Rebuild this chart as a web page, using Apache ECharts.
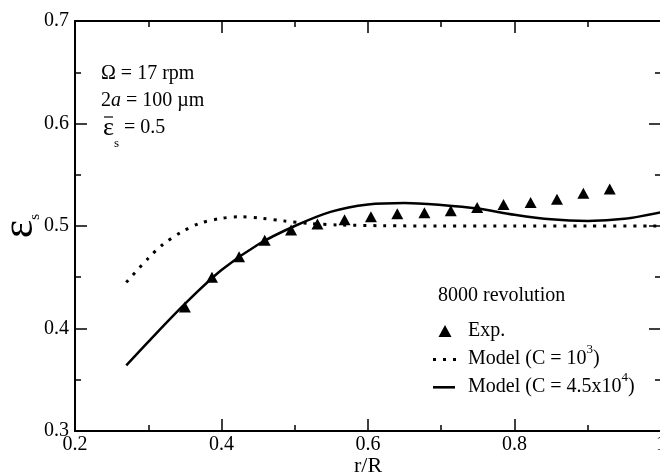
<!DOCTYPE html>
<html>
<head>
<meta charset="utf-8">
<script src="https://cdn.jsdelivr.net/npm/echarts@6/dist/echarts.min.js"></script>
<style>
html, body { margin: 0; padding: 0; background: #fff; }
#chart { width: 660px; height: 476px; }
</style>
</head>
<body>
<div id="chart"></div>
<script>
// tick values
var xTicks = [0.2, 0.4, 0.6, 0.8, 1.0];
var yTicks = [0.3, 0.4, 0.5, 0.6, 0.7];

// experiment (8000 revolution)
var expR = [0.350, 0.387, 0.424, 0.459, 0.495, 0.531, 0.568, 0.604, 0.640, 0.677, 0.713, 0.749, 0.785, 0.822, 0.858, 0.894, 0.930];
var expEps = [0.421, 0.450, 0.470, 0.486, 0.496, 0.502, 0.506, 0.509, 0.512, 0.513, 0.515, 0.518, 0.521, 0.523, 0.526, 0.532, 0.536];

// model, C = 10^3 (dotted)
var lowR = [0.27, 0.30, 0.32, 0.345, 0.37, 0.40, 0.425, 0.455, 0.485, 0.52, 0.56, 0.62, 0.70, 0.80, 0.90, 1.00];
var lowEps = [0.445, 0.4685, 0.482, 0.494, 0.5026, 0.5075, 0.509, 0.5075, 0.505, 0.5025, 0.501, 0.5003, 0.500, 0.500, 0.500, 0.500];

// model, C = 4.5x10^4 (solid)
var highR = [0.27, 0.30, 0.35, 0.40, 0.45, 0.50, 0.55, 0.60, 0.65, 0.70, 0.75, 0.80, 0.85, 0.90, 0.95, 1.00];
var highEps = [0.364, 0.387, 0.424, 0.457, 0.482, 0.500, 0.514, 0.521, 0.5225, 0.5205, 0.517, 0.511, 0.5065, 0.505, 0.507, 0.5134];

var seriesNames = ['Exp.', 'Model (C = 10^3)', 'Model (C = 4.5x10^4)'];
var legendLabels = [
    '{n|Exp.}',
    '{n|Model (C = 10}{sup|3}{n|)}',
    '{n|Model (C = 4.5x10}{sup|4}{n|)}'
];
// icons drawn in a 27x12 box
var legendIcons = [
    'path://M0,0M27,12M12,0L18.5,12L5.5,12Z',
    'path://M0,0M27,12M0,5h3v3h-3z M10,5h3v3h-3z M20,5h3v3h-3z',
    'path://M0,0M27,12M0,5h22v2.6h-22z'
];
var legendTitle = '8000 revolution';

var font = 'Liberation Serif';

function pairs(xs, ys) {
    return xs.map(function(x, i) { return [x, ys[i]]; });
}
function step(t) {
    return Math.round((t[1] - t[0]) * 1e6) / 1e6;
}

var tickLine = {color: '#000', width: 1.5};
var axisLine = {show: true, lineStyle: {color: '#000', width: 2}};

function xAxisOf(pos, showLabel) {
    return {
        type: 'value',
        position: pos,
        min: xTicks[0],
        max: xTicks[xTicks.length - 1],
        interval: step(xTicks),
        axisLine: axisLine,
        axisTick: {inside: true, length: 12, lineStyle: tickLine},
        minorTick: {show: true, splitNumber: 2, length: 6, lineStyle: tickLine},
        splitLine: {show: false},
        axisLabel: {show: showLabel, color: '#000', fontFamily: font, fontSize: 20, margin: 4},
        name: showLabel ? 'r/R' : '',
        nameLocation: 'middle',
        nameGap: 24,
        nameMoveOverlap: false,
        nameTextStyle: {color: '#000', fontFamily: font, fontSize: 22}
    };
}
function yAxisOf(pos, showLabel) {
    return {
        type: 'value',
        position: pos,
        min: yTicks[0],
        max: yTicks[yTicks.length - 1],
        interval: step(yTicks),
        axisLine: axisLine,
        axisTick: {inside: true, length: 12, lineStyle: tickLine},
        minorTick: {show: true, splitNumber: 2, length: 6, lineStyle: tickLine},
        splitLine: {show: false},
        axisLabel: {show: showLabel, color: '#000', fontFamily: font, fontSize: 20, margin: 6},
        name: showLabel ? '{e|\u03b5}{s|s}' : '',
        nameLocation: 'middle',
        nameRotate: 90,
        nameGap: 33,
        nameMoveOverlap: false,
        nameTextStyle: {
            color: '#000', fontFamily: font, lineHeight: 44,
            rich: {
                e: {fontFamily: font, fontSize: 44, color: '#000', lineHeight: 44},
                s: {fontFamily: font, fontSize: 15, color: '#000', lineHeight: 44, padding: [30, 0, 0, 0]}
            }
        }
    };
}

var chart = echarts.init(document.getElementById('chart'));

var option = {
    animation: false,
    backgroundColor: '#fff',
    grid: {left: 75, right: -1, top: 21, bottom: 45, containLabel: false, outerBoundsMode: 'none'},
    xAxis: [xAxisOf('bottom', true), xAxisOf('top', false)],
    yAxis: [yAxisOf('left', true), yAxisOf('right', false)],
    legend: {
        orient: 'vertical',
        left: 433,
        top: 319,
        padding: 0,
        itemWidth: 27,
        itemHeight: 12,
        itemGap: 0,
        symbolKeepAspect: true,
        selectedMode: false,
        data: seriesNames.map(function(name, i) {
            return {name: name, icon: legendIcons[i]};
        }),
        formatter: function(name) {
            return legendLabels[seriesNames.indexOf(name)];
        },
        textStyle: {
            color: '#000', fontFamily: font, fontSize: 20, lineHeight: 24, padding: [0, 0, 0, 3],
            rich: {
                n: {fontFamily: font, fontSize: 20, color: '#000', lineHeight: 24},
                sup: {fontFamily: font, fontSize: 13, color: '#000', verticalAlign: 'top', padding: [-4, 0, 0, 0]}
            }
        }
    },
    graphic: [
        {type: 'text', x: 101, y: 74, style: {text: '\u03a9 = 17 rpm', font: '20px "Liberation Serif"', fill: '#000', verticalAlign: 'middle'}},
        {type: 'text', x: 101, y: 101, style: {
            text: '2{i|a} = 100 \u00b5m', font: '20px "Liberation Serif"', fill: '#000', verticalAlign: 'middle',
            rich: {i: {fontFamily: font, fontSize: 20, fontStyle: 'italic', fill: '#000'}}
        }},
        {type: 'text', x: 103, y: 128, style: {
            text: '{e|\u03b5}{s|s}{n| = 0.5}', fill: '#000', verticalAlign: 'middle', lineHeight: 26,
            rich: {
                e: {fontFamily: font, fontSize: 26, fill: '#000', lineHeight: 26},
                s: {fontFamily: font, fontSize: 13, fill: '#000', lineHeight: 26, padding: [32, 0, 0, 0]},
                n: {fontFamily: font, fontSize: 20, fill: '#000', lineHeight: 26}
            }
        }},
        // bar over epsilon
        {type: 'line', shape: {x1: 104, y1: 117, x2: 113, y2: 117}, style: {stroke: '#000', lineWidth: 1.2}},
        {type: 'text', x: 438, y: 296, style: {text: legendTitle, font: '20px "Liberation Serif"', fill: '#000', verticalAlign: 'middle'}}
    ],
    series: [
        {
            name: seriesNames[1],
            type: 'line',
            smooth: 0.3,
            symbol: 'none',
            data: pairs(lowR, lowEps),
            lineStyle: {color: '#000', width: 3, type: [3, 7], cap: 'butt'},
            itemStyle: {color: '#000'}
        },
        {
            name: seriesNames[2],
            type: 'line',
            smooth: 0.3,
            symbol: 'none',
            data: pairs(highR, highEps),
            lineStyle: {color: '#000', width: 2.5},
            itemStyle: {color: '#000'}
        },
        {
            name: seriesNames[0],
            type: 'scatter',
            symbol: 'triangle',
            symbolSize: [12, 11],
            data: pairs(expR, expEps),
            itemStyle: {color: '#000', opacity: 1}
        }
    ]
};
chart.setOption(option);
</script>
</body>
</html>
